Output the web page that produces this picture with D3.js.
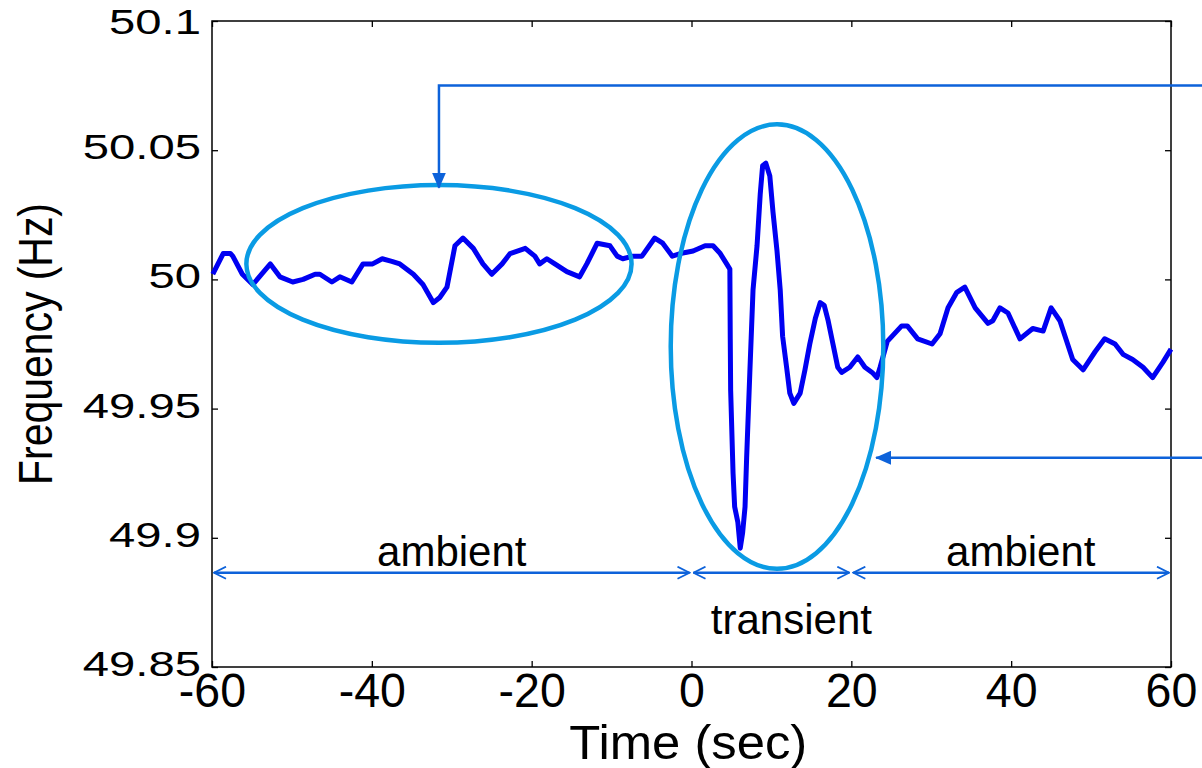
<!DOCTYPE html>
<html lang="en">
<head>
<meta charset="UTF-8">
<title>Frequency</title>
<style>
    body { margin: 0; background: #fff; }
    svg text { font-family: "Liberation Sans", Arial, sans-serif; fill: #000; }
    .axis line { stroke: #000; stroke-width: 1.3; }
    .axis path { display: none; }
</style>
</head>
<body>
<div id="chart"></div>
<script src="https://cdn.jsdelivr.net/npm/d3@7"></script>
<script>
// measured series (sec, Hz)
const time = [-59.9, -58.6, -57.7, -57.4, -56.2, -54.9, -52.7, -51.5, -49.9, -48.6, -47.1, -46.5, -45.0, -44.0, -42.5,
    -41.1, -39.9, -38.7, -37.5, -36.5, -34.8, -33.6, -32.3, -31.5, -30.6, -29.6, -28.6, -27.3, -26.1, -25.0,
    -23.7, -22.7, -20.8, -19.6, -19.0, -18.1, -17.1, -15.6, -14.0, -13.1, -11.8, -10.2, -9.3, -8.6, -7.3,
    -6.2, -4.6, -3.6, -2.4, -1.4, 0.2, 1.7, 2.7, 3.6, 4.4, 4.8, 4.85, 4.9, 5.2, 5.4,
    5.8, 6.1, 6.4, 6.7, 6.9, 7.3, 7.7, 8.2, 8.6, 8.9, 9.3, 9.8, 10.2, 10.7, 11.1,
    11.4, 11.9, 12.3, 12.8, 13.6, 14.2, 14.8, 15.5, 16.1, 16.6, 17.1, 17.7, 18.3, 18.8, 19.8,
    20.8, 21.7, 22.6, 23.2, 23.6, 24.5, 26.3, 27.0, 28.3, 30.1, 31.1, 32.1, 33.2, 34.2, 35.5,
    36.3, 37.1, 37.7, 38.6, 39.6, 41.1, 42.7, 44.0, 45.0, 46.1, 47.7, 49.0, 50.5, 51.7, 53.0,
    54.0, 55.2, 56.5, 57.7, 59.0, 60.0];
const freq = [50.002, 50.010, 50.010, 50.009, 50.002, 49.998, 50.006, 50.001, 49.999, 50.000, 50.002, 50.002, 49.999, 50.001, 49.999,
    50.006, 50.006, 50.008, 50.007, 50.006, 50.002, 49.998, 49.991, 49.993, 49.997, 50.013, 50.016, 50.012, 50.006, 50.002,
    50.006, 50.010, 50.012, 50.009, 50.006, 50.008, 50.006, 50.003, 50.001, 50.006, 50.014, 50.013, 50.009, 50.008, 50.009,
    50.009, 50.016, 50.014, 50.009, 50.010, 50.011, 50.013, 50.013, 50.010, 50.006, 50.004, 49.977, 49.957, 49.925, 49.912,
    49.906, 49.896, 49.902, 49.912, 49.931, 49.964, 49.996, 50.013, 50.033, 50.044, 50.045, 50.040, 50.026, 50.011, 49.996,
    49.978, 49.966, 49.956, 49.952, 49.956, 49.965, 49.975, 49.985, 49.991, 49.990, 49.984, 49.975, 49.966, 49.964, 49.966,
    49.970, 49.966, 49.964, 49.962, 49.966, 49.976, 49.982, 49.982, 49.977, 49.975, 49.979, 49.989, 49.995, 49.997, 49.989,
    49.986, 49.983, 49.984, 49.989, 49.987, 49.977, 49.981, 49.980, 49.989, 49.984, 49.969, 49.965, 49.972, 49.977, 49.975,
    49.971, 49.969, 49.966, 49.962, 49.968, 49.973];

const xTicks = [-60, -40, -20, 0, 20, 40, 60];
const yTicks = [49.85, 49.9, 49.95, 50, 50.05, 50.1];

// annotation spans along the bottom
const spanBounds = [[-60, 0], [0, 20], [20, 60]];
const spanLabels = ["ambient", "transient", "ambient"];
const spanLabelAt = [-30, 12.5, 41.2];
const spanFreq = 49.8865;

// circled regions: [centre t, centre f, half width (s), half height (Hz)]
const regions = [[-31.6, 50.006, 24.1, 0.0305], [10.7, 49.974, 13.3, 0.086]];

const width = 1202, height = 768;
const margin = {top: 21, right: 31, bottom: 101, left: 212};

const x = d3.scaleLinear().domain([-60, 60]).range([margin.left, width - margin.right]);
const y = d3.scaleLinear().domain([49.85, 50.1]).range([height - margin.bottom, margin.top]);

const svg = d3.select("#chart").append("svg")
    .attr("width", width)
    .attr("height", height);

const blue = "#0d62da";
const defs = svg.append("defs");
defs.append("marker").attr("id", "open")
    .attr("viewBox", "0 0 14 14").attr("refX", 13).attr("refY", 7)
    .attr("markerWidth", 14).attr("markerHeight", 14).attr("markerUnits", "userSpaceOnUse")
    .attr("orient", "auto-start-reverse")
    .append("path").attr("d", "M1,1 L13,7 L1,13")
    .attr("fill", "none").attr("stroke", blue).attr("stroke-width", 1.8);
defs.append("marker").attr("id", "solid")
    .attr("viewBox", "0 0 16 14").attr("refX", 15).attr("refY", 7)
    .attr("markerWidth", 16).attr("markerHeight", 14).attr("markerUnits", "userSpaceOnUse")
    .attr("orient", "auto")
    .append("path").attr("d", "M0,0 L16,7 L0,14 Z").attr("fill", blue);

// axes (ticks point inward)
const bottom = svg.append("g").attr("class", "axis")
    .attr("transform", `translate(0,${y(49.85)})`)
    .call(d3.axisBottom(x).tickValues(xTicks).tickSize(-6).tickPadding(6).tickFormat(d => String(d)));
bottom.selectAll("text")
    .style("font-size", "48px")
    .attr("transform", "scale(0.97,1)");

svg.append("g").attr("class", "axis")
    .attr("transform", `translate(0,${y(50.1)})`)
    .call(d3.axisTop(x).tickValues(xTicks).tickSize(-6).tickFormat(""));

const left = svg.append("g").attr("class", "axis")
    .attr("transform", `translate(${x(-60)},0)`)
    .call(d3.axisLeft(y).tickValues(yTicks).tickSize(-6).tickPadding(11).tickFormat(d => String(d)));
left.selectAll("text")
    .style("font-size", "35px")
    .attr("x", -11 / 1.35)
    .attr("y", d => d === 50.1 ? 4 : 0)
    .attr("dy", "0.24em")
    .attr("transform", "scale(1.35,1)");

svg.append("g").attr("class", "axis")
    .attr("transform", `translate(${x(60)},0)`)
    .call(d3.axisRight(y).tickValues(yTicks).tickSize(-6).tickFormat(""));

svg.append("rect")
    .attr("x", x(-60)).attr("y", y(50.1))
    .attr("width", x(60) - x(-60)).attr("height", y(49.85) - y(50.1))
    .attr("fill", "none").attr("stroke", "#000").attr("stroke-width", 1.5);

// data line
const line = d3.line().x((d, i) => x(time[i])).y(d => y(d));
svg.append("path").datum(freq)
    .attr("d", line)
    .attr("fill", "none")
    .attr("stroke", "#0000f2")
    .attr("stroke-width", 5)
    .attr("stroke-linejoin", "round");

// circled regions
svg.selectAll("ellipse").data(regions).enter().append("ellipse")
    .attr("cx", d => x(d[0])).attr("cy", d => y(d[1]))
    .attr("rx", d => x(d[2]) - x(0)).attr("ry", d => y(0) - y(d[3]))
    .attr("fill", "none").attr("stroke", "#0a9be4").attr("stroke-width", 4.5);

// pointers from the right edge
svg.append("path")
    .attr("d", `M${width},${y(50.075)} H${x(-31.6)} V${y(50.0355)}`)
    .attr("fill", "none").attr("stroke", blue).attr("stroke-width", 2.5)
    .attr("marker-end", "url(#solid)");
svg.append("path")
    .attr("d", `M${width},${y(49.931)} H${x(23.1)}`)
    .attr("fill", "none").attr("stroke", blue).attr("stroke-width", 2.5)
    .attr("marker-end", "url(#solid)");

// span arrows
svg.selectAll(".span").data(spanBounds).enter().append("line")
    .attr("class", "span")
    .attr("x1", d => x(d[0]) + 2)
    .attr("x2", d => x(d[1]) - 2)
    .attr("y1", y(spanFreq)).attr("y2", y(spanFreq))
    .attr("stroke", blue).attr("stroke-width", 2.5)
    .attr("marker-start", "url(#open)").attr("marker-end", "url(#open)");

svg.selectAll(".spanlabel").data(spanLabels).enter().append("text")
    .attr("class", "spanlabel")
    .attr("x", (d, i) => x(spanLabelAt[i]))
    .attr("y", (d, i) => d === "transient" ? y(spanFreq) + 61 : y(spanFreq) - 7)
    .attr("text-anchor", "middle")
    .style("font-size", "42px")
    .text(d => d);

// axis titles
svg.append("text")
    .attr("x", x(-0.4)).attr("y", 759)
    .attr("text-anchor", "middle")
    .attr("textLength", 238)
    .attr("lengthAdjust", "spacingAndGlyphs")
    .style("font-size", "49px")
    .text("Time (sec)");

svg.append("text")
    .attr("transform", `translate(52,${y(49.975)}) rotate(-90)`)
    .attr("text-anchor", "middle")
    .attr("textLength", 282)
    .attr("lengthAdjust", "spacingAndGlyphs")
    .style("font-size", "48px")
    .text("Frequency (Hz)");
</script>
</body>
</html>
